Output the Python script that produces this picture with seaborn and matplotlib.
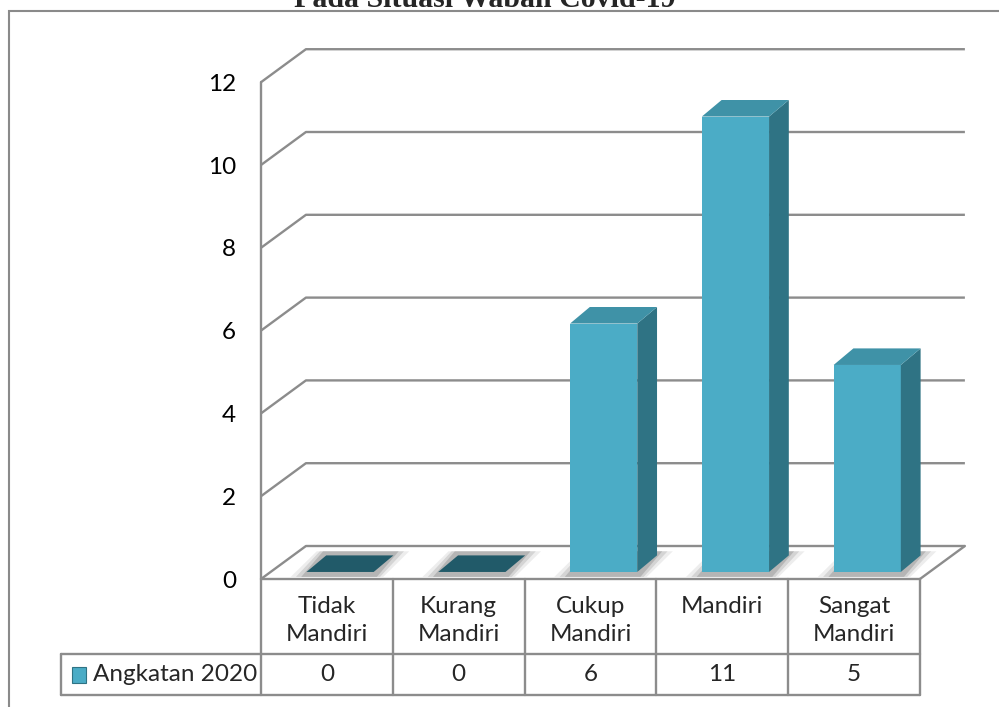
import matplotlib
matplotlib.use('Agg')
import matplotlib.pyplot as plt
import seaborn as sns
import pandas as pd
from matplotlib.patches import Polygon, Rectangle

# data
categories = ['Tidak\nMandiri', 'Kurang\nMandiri', 'Cukup\nMandiri', 'Mandiri', 'Sangat\nMandiri']
values = [0, 0, 6, 11, 5]
series_name = 'Angkatan 2020'
yticks = [0, 2, 4, 6, 8, 10, 12]
title = 'Pada Situasi Wabah Covid-19'

df = pd.DataFrame({'kategori': categories, 'jumlah': values})

# colours
FRONT = '#4bacc6'
SIDE = '#2f7384'
TOP = '#3f92a7'
FLAT = '#215a69'
GRID = '#8c8c8c'

# 3d look (data units)
DX, DY = 0.341, 0.797          # depth of the back wall
BAR_W = 0.51
SHIFT_X, SHIFT_Y = 0.10, 0.17  # bar front face inside the floor
BDX, BDY = 0.15, 0.40          # bar depth
ROW1, ROW2 = -1.81, -2.80      # data table rows
LEG_L = -2.017

sns.set_theme(style='white')
plt.rcParams['font.family'] = ['Lato', 'DejaVu Sans']

fig = plt.figure(figsize=(9.99, 7.07), dpi=100)
ax = fig.add_axes([261 / 999, 1 - 579 / 707, 706 / 999, 530 / 707])

sns.barplot(data=df, x='kategori', y='jumlah', order=categories, color=FRONT,
            saturation=1, width=BAR_W, ax=ax, zorder=3)

ax.set_xlim(-0.5, 4.5 + DX + 0.016)
ax.set_ylim(0, 12 + DY + 0.005)
for s in ax.spines.values():
    s.set_visible(False)
ax.set_xticks([])
ax.set_xlabel('')
ax.set_ylabel('')
ax.set_yticks(yticks)
ax.set_yticklabels([str(t) for t in yticks], fontsize=17.5, color='black')
ax.tick_params(axis='y', length=0, pad=18)
ax.grid(False)

n = len(categories)
xl, xr = -0.5, n - 0.5

# walls, grid and floor
for t in yticks:
    ax.plot([xl, xl + DX, xr + DX], [t, t + DY, t + DY], color=GRID, lw=1.7,
            zorder=1, clip_on=False, solid_capstyle='butt')
ax.plot([xl, xl], [0, yticks[-1]], color=GRID, lw=1.7, zorder=1, clip_on=False)
ax.plot([xr, xr + DX], [0, DY], color=GRID, lw=1.7, zorder=1, clip_on=False)

# bars: shift the front faces back, add sides and tops
for p, v in zip(ax.patches, values):
    p.set_x(p.get_x() + SHIFT_X)
    p.set_y(SHIFT_Y)
    p.set_edgecolor('none')
    x0 = p.get_x()
    x1 = x0 + p.get_width()
    y0 = SHIFT_Y
    y1 = SHIFT_Y + p.get_height()
    # soft shadow on the floor
    for k, a in zip([0.12, 0.08, 0.04], [0.12, 0.2, 0.3]):
        ax.add_patch(Polygon([(x0 - k, y0 - 0.12), (x1 + k * 0.6, y0 - 0.12),
                              (x1 + BDX + k, y0 + BDY + 0.1), (x0 + BDX - k * 0.6, y0 + BDY + 0.1)],
                             closed=True, fc='#707070', ec='none', alpha=a, zorder=2))
    if v > 0:
        ax.add_patch(Polygon([(x1, y0), (x1 + BDX, y0 + BDY), (x1 + BDX, y1 + BDY), (x1, y1)],
                             closed=True, fc=SIDE, ec='none', zorder=3))
        ax.add_patch(Polygon([(x0, y1), (x1, y1), (x1 + BDX, y1 + BDY), (x0 + BDX, y1 + BDY)],
                             closed=True, fc=TOP, ec='none', zorder=3))
    else:
        ax.add_patch(Polygon([(x0, y0), (x1, y0), (x1 + BDX, y0 + BDY), (x0 + BDX, y0 + BDY)],
                             closed=True, fc=FLAT, ec='none', zorder=3))

# data table
tkw = dict(color=GRID, lw=1.7, clip_on=False, zorder=1)
ax.plot([xl, xr], [0, 0], **tkw)
ax.plot([LEG_L, xr], [ROW1, ROW1], **tkw)
ax.plot([LEG_L, xr], [ROW2, ROW2], **tkw)
ax.plot([LEG_L, LEG_L], [ROW1, ROW2], **tkw)
for k in range(n + 1):
    ax.plot([xl + k, xl + k], [0, ROW2], **tkw)

for i, (c, v) in enumerate(zip(categories, values)):
    ax.text(i, -0.40, c, ha='center', va='top', fontsize=17.5, linespacing=1.45,
            clip_on=False)
    ax.text(i, (ROW1 + ROW2) / 2, str(v), ha='center', va='center', fontsize=17.5,
            clip_on=False)

ax.add_patch(Rectangle((-1.934, -2.512), 0.106, 0.386, fc=FRONT, ec='#2f7384', lw=0.8,
                       clip_on=False, zorder=3))
ax.text(-1.775, (ROW1 + ROW2) / 2, series_name, ha='left', va='center', fontsize=17.5,
        clip_on=False)

# outer chart border and the title, cut at the top edge as in the source
fig.add_artist(Rectangle((9 / 999, -0.1), 2, 1 - 11 / 707 + 0.1, transform=fig.transFigure,
                         fill=False, ec='#8a8a8a', lw=1.5))
fig.text(485 / 999, 1 - 7 / 707, title, ha='center', va='baseline',
         family='Liberation Serif', weight='bold', fontsize=21.5)

fig.savefig('out.png', dpi=100)
